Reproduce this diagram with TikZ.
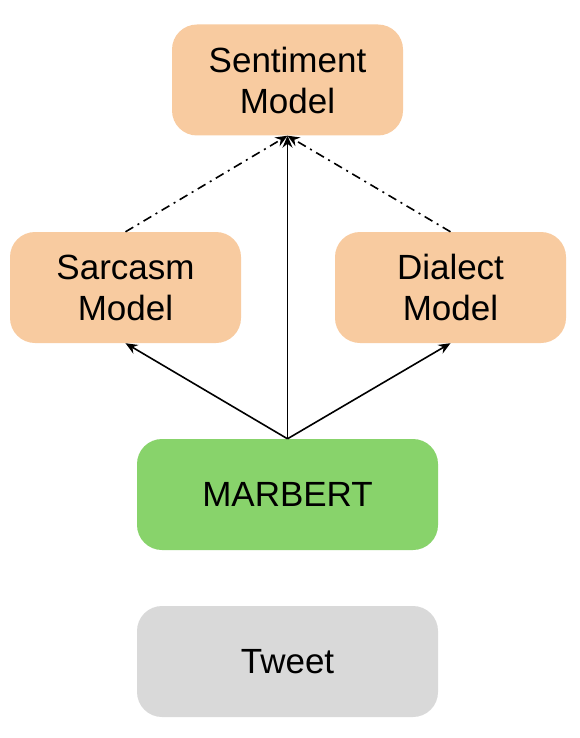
\documentclass[tikz,border=0pt]{standalone}
\usepackage{fontspec}
\setmainfont{Liberation Sans}
\usetikzlibrary{arrows.meta}
\definecolor{peach}{HTML}{F8CBA0}
\definecolor{mgreen}{HTML}{88D36B}
\definecolor{lgray}{HTML}{D9D9D9}
\begin{document}
\begin{tikzpicture}[x=1pt,y=-1pt,
  box/.style={rounded corners=25pt, inner sep=0pt, align=center,
    font=\fontsize{35}{41}\selectfont, minimum height=111pt},
  small/.style={box, minimum width=231pt},
  wide/.style={box, minimum width=301pt},
  arr/.style={line width=1.6pt, -{Stealth[length=12pt,width=10pt,inset=4pt]}},
  dd/.style={line width=1.6pt, dash pattern=on 9pt off 5pt on 2pt off 5pt, -{Stealth[length=12pt,width=10pt,inset=4pt]}}]
\useasboundingbox (0,0) rectangle (580,738);
\node[small, fill=peach] (sent) at (287.5,80) {Sentiment\\Model};
\node[small, fill=peach] (sarc) at (125.5,287.5) {Sarcasm\\Model};
\node[small, fill=peach] (dial) at (450.5,287.5) {Dialect\\Model};
\node[wide, fill=mgreen] (mar) at (287.5,494.5) {MARBERT};
\node[wide, fill=lgray] (tw) at (287.5,661.5) {Tweet};
\draw[arr] (mar.north) -- (sarc.south);
\draw[arr] (mar.north) -- (dial.south);
\draw[arr] (mar.north) -- (sent.south);
\draw[dd] (sarc.north) -- (sent.south);
\draw[dd] (dial.north) -- (sent.south);
\end{tikzpicture}
\end{document}
